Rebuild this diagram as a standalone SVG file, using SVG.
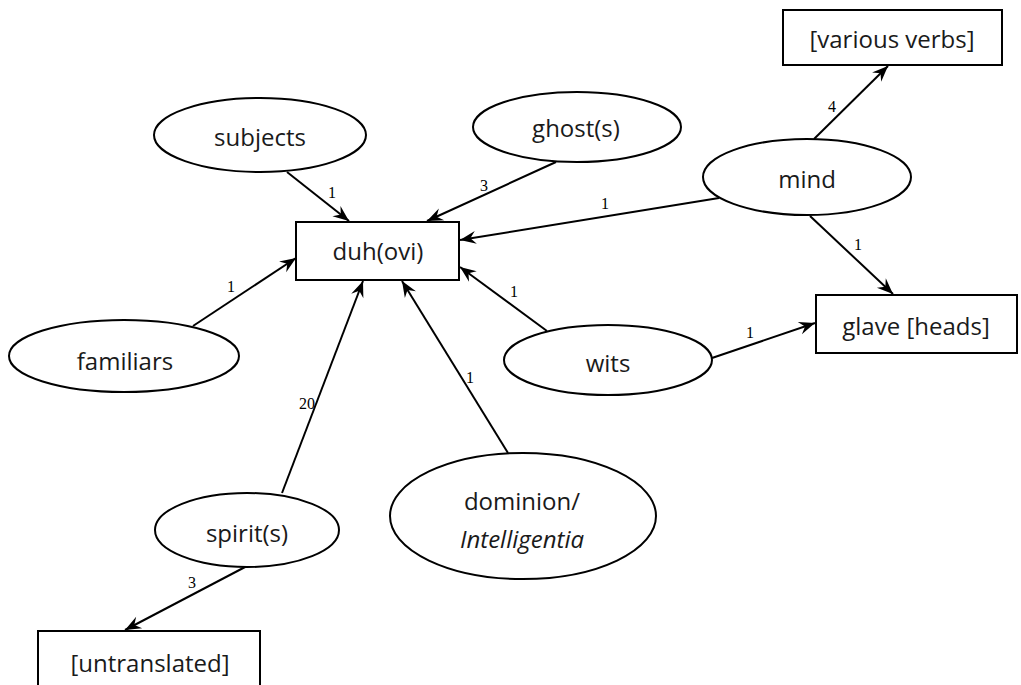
<svg xmlns="http://www.w3.org/2000/svg" width="1021" height="685" viewBox="0 0 1021 685">
  <defs>
    <marker id="vee" viewBox="-18 -8 20 16" refX="0" refY="0" markerWidth="20" markerHeight="16" markerUnits="userSpaceOnUse" orient="auto">
      <path d="M0,0 L-16,-6.5 L-10.5,0 L-16,6.5 Z" fill="#000"/>
    </marker>
    <style>
      .shape { fill: #fff; stroke: #000; stroke-width: 2; }
      .label { font-family: "Open Sans", "Liberation Sans", sans-serif; font-size: 24px; fill: #1a1a1a; text-anchor: middle; }
      .edge { stroke: #000; stroke-width: 2; fill: none; marker-end: url(#vee); }
      .count { font-family: "Liberation Serif", serif; font-size: 16px; fill: #000; text-anchor: middle; }
    </style>
  </defs>
  <rect width="1021" height="685" fill="#fff"/>

  <g id="connectors">
    <line class="edge" x1="287" y1="172" x2="349" y2="221"/>
    <line class="edge" x1="556" y1="162" x2="427" y2="221"/>
    <line class="edge" x1="719" y1="198" x2="460" y2="240"/>
    <line class="edge" x1="547" y1="331" x2="460" y2="267"/>
    <line class="edge" x1="193" y1="326" x2="296" y2="258"/>
    <line class="edge" x1="282" y1="493" x2="363" y2="281"/>
    <line class="edge" x1="508" y1="453" x2="402" y2="281"/>
    <line class="edge" x1="814" y1="139" x2="888" y2="66"/>
    <line class="edge" x1="810" y1="216" x2="893" y2="294"/>
    <line class="edge" x1="712" y1="358" x2="815" y2="323"/>
    <line class="edge" x1="247" y1="566" x2="125" y2="630"/>
    <text class="count" x="332" y="198">1</text>
    <text class="count" x="484" y="191">3</text>
    <text class="count" x="605" y="209">1</text>
    <text class="count" x="514" y="297">1</text>
    <text class="count" x="231" y="292">1</text>
    <text class="count" x="307" y="409">20</text>
    <text class="count" x="470" y="383">1</text>
    <text class="count" x="832" y="112">4</text>
    <text class="count" x="858" y="250">1</text>
    <text class="count" x="750" y="338">1</text>
    <text class="count" x="192" y="588">3</text>
  </g>

  <g id="duhovi">
    <rect class="shape" x="296" y="222" width="163" height="58"/>
    <text class="label" x="378" y="260">duh(ovi)</text>
  </g>
  <g id="various-verbs">
    <rect class="shape" x="783" y="10" width="219" height="55"/>
    <text class="label" x="892" y="48">[various verbs]</text>
  </g>
  <g id="glave">
    <rect class="shape" x="816" y="295" width="201" height="58"/>
    <text class="label" x="916" y="335">glave [heads]</text>
  </g>
  <g id="untranslated">
    <rect class="shape" x="38" y="631" width="222" height="62"/>
    <text class="label" x="150" y="672">[untranslated]</text>
  </g>
  <g id="subjects">
    <ellipse class="shape" cx="260" cy="135" rx="106" ry="37"/>
    <text class="label" x="260" y="146">subjects</text>
  </g>
  <g id="ghosts">
    <ellipse class="shape" cx="577" cy="127" rx="104" ry="35"/>
    <text class="label" x="576" y="137">ghost(s)</text>
  </g>
  <g id="mind">
    <ellipse class="shape" cx="807" cy="177" rx="104" ry="38"/>
    <text class="label" x="807" y="188">mind</text>
  </g>
  <g id="familiars">
    <ellipse class="shape" cx="124" cy="356" rx="115" ry="36"/>
    <text class="label" x="125" y="370">familiars</text>
  </g>
  <g id="wits">
    <ellipse class="shape" cx="608" cy="360" rx="104" ry="35"/>
    <text class="label" x="608" y="372">wits</text>
  </g>
  <g id="spirits">
    <ellipse class="shape" cx="247" cy="530" rx="92" ry="37"/>
    <text class="label" x="247" y="542">spirit(s)</text>
  </g>
  <g id="dominion">
    <ellipse class="shape" cx="523" cy="516" rx="133" ry="63"/>
    <text class="label" x="522" y="510">dominion/</text>
    <text class="label" x="522" y="548" font-style="italic">Intelligentia</text>
  </g>
</svg>
